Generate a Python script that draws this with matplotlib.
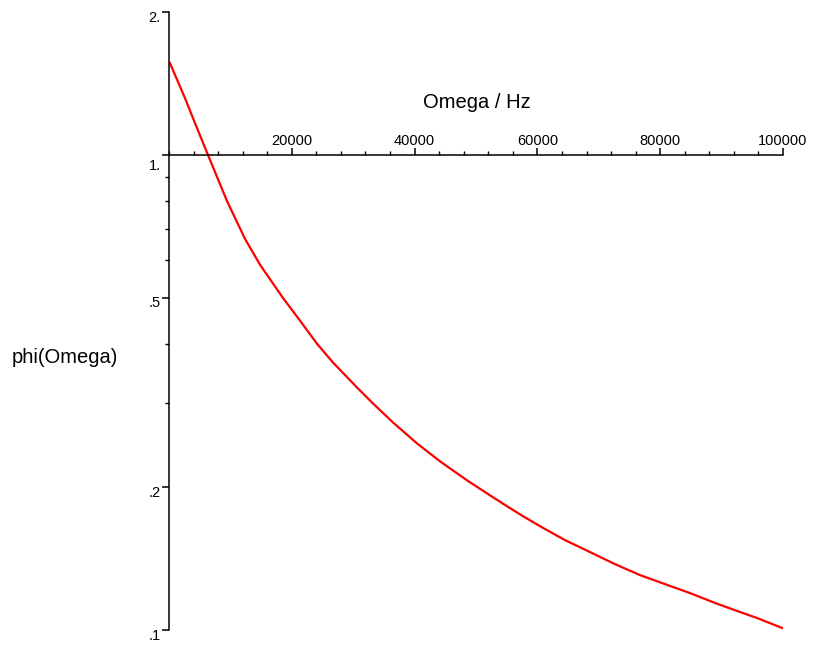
import numpy as np
import matplotlib
matplotlib.use("Agg")
import matplotlib.pyplot as plt
from matplotlib.ticker import FixedLocator, MultipleLocator, NullFormatter
from matplotlib.transforms import ScaledTranslation

# curve (Omega in Hz, phi on log scale)
omega = [160, 2606, 4235, 6352, 9446, 12378, 14821, 18567, 21336, 24104,
         26710, 30619, 33225, 36482, 40391, 44137, 48534, 52280, 55049,
         57655, 60423, 64495, 68567, 72638, 76710, 80782, 84853, 88925,
         92997, 95765, 99837]
phi = [1.561, 1.317, 1.167, 1.0, 0.800, 0.666, 0.5875, 0.500, 0.448, 0.4006,
       0.3656, 0.324, 0.2998, 0.2735, 0.2471, 0.2265, 0.2066, 0.1921, 0.1822,
       0.1736, 0.1654, 0.1546, 0.1459, 0.1376, 0.1305, 0.1249, 0.1196, 0.1140,
       0.1091, 0.1060, 0.1010]

x_ticks = [20000, 40000, 60000, 80000, 100000]
x_labels = ["20000", "40000", "60000", "80000", "100000"]
y_ticks = [0.1, 0.2, 0.5, 1.0, 2.0]
y_labels = [".1", ".2", ".5", "1.", "2."]
y_minor = [0.3, 0.4, 0.6, 0.7, 0.8, 0.9]

plt.rcParams['font.family'] = ['Liberation Sans', 'DejaVu Sans']

fig = plt.figure(figsize=(8.16, 6.46), dpi=100)
ax = fig.add_axes([169/816, 1-630/646, 614/816, 618/646])

ax.plot(omega, phi, color="red", lw=1.6)
ax.set_yscale("log")
ax.set_xlim(0, 100000)
ax.set_ylim(0.1, 2.0)

# Maple style axes: vertical at x=0, horizontal crossing at phi=1
ax.spines['right'].set_visible(False)
ax.spines['bottom'].set_visible(False)
ax.spines['top'].set_position(('data', 1.0))
ax.spines['top'].set_linewidth(1.1)
ax.spines['left'].set_linewidth(1.1)

ax.xaxis.set_ticks_position('top')
ax.set_xticks(x_ticks)
ax.set_xticklabels(x_labels)
ax.xaxis.set_minor_locator(MultipleLocator(4000))
ax.tick_params(axis='x', which='major', direction='out', length=5, width=1.1,
               pad=0, labelsize=10.5)
ax.tick_params(axis='x', which='minor', direction='out', length=3, width=1.0)

ax.set_yticks(y_ticks)
ax.set_yticklabels(y_labels)
ax.yaxis.set_minor_locator(FixedLocator(y_minor))
ax.yaxis.set_minor_formatter(NullFormatter())
ax.tick_params(axis='y', which='major', direction='out', length=5, width=1.1,
               pad=1, labelsize=10.5)
ax.tick_params(axis='y', which='minor', direction='out', length=3, width=1.0)

for lab in ax.get_yticklabels():
    dy = -10 if lab.get_text() == "1." else -4
    lab.set_transform(lab.get_transform() + ScaledTranslation(0, dy/100, fig.dpi_scale_trans))

ax.set_xlabel("Omega / Hz", fontsize=14.5, va='center', ha='center')
ax.xaxis.set_label_coords(0.5016, 0.854)
ax.set_ylabel("phi(Omega)", fontsize=14.5, rotation=0, va='center', ha='center')
ax.yaxis.set_label_coords(-0.1694, 0.4417)

fig.savefig("out.png", dpi=100)
